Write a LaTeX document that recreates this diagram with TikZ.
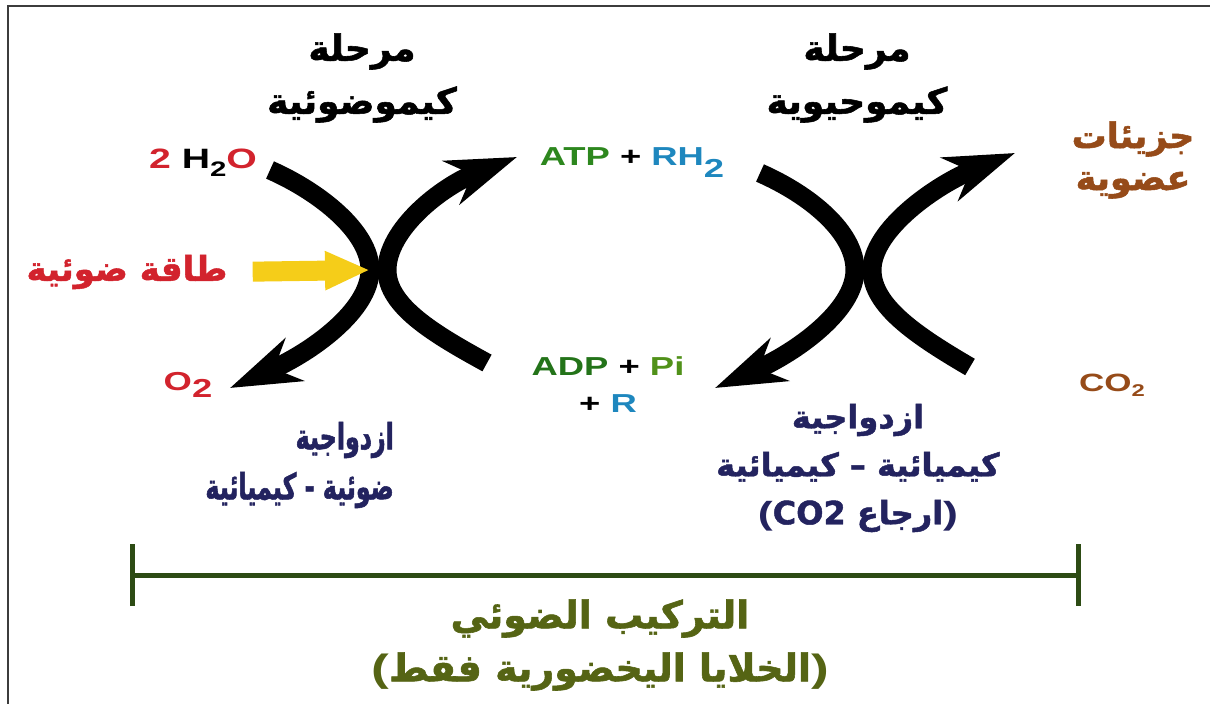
\documentclass[tikz,border=0pt]{standalone}
\usepackage{fontspec}
\usetikzlibrary{arrows.meta}
\TeXXeTstate=1
\newfontfamily\arabicfont[Script=Arabic, BoldFeatures={FakeBold=1.5}]{DejaVu Sans}
\newfontfamily\arnarrow[Script=Arabic, FakeStretch=0.66, BoldFeatures={FakeBold=1.5}]{DejaVu Sans}
\newfontfamily\chemfont[FakeStretch=1.4]{Liberation Sans}
\newcommand\opar{{\chemfont\bfseries(}}
\newcommand\cpar{{\chemfont\bfseries)}}
\definecolor{chemred}{RGB}{210, 35, 45}
\definecolor{atpgreen}{RGB}{45, 135, 30}
\definecolor{adpgreen}{RGB}{35, 115, 25}
\definecolor{pigreen}{RGB}{80, 145, 25}
\definecolor{rhblue}{RGB}{30, 135, 190}
\definecolor{orgbrown}{RGB}{150, 75, 25}
\definecolor{coupnavy}{RGB}{35, 35, 95}
\definecolor{bargreen}{RGB}{45, 75, 20}
\definecolor{titlegreen}{RGB}{85, 100, 20}
\definecolor{sunyellow}{RGB}{245, 205, 25}
\definecolor{framegray}{RGB}{60, 60, 60}
\tikzset{
  artext/.style={font=\arabicfont\bfseries\fontsize{36}{53}\selectfont, align=center, inner sep=1pt},
  chem/.style={font=\chemfont\bfseries\fontsize{26}{37}\selectfont, align=center, inner sep=1pt},
  xarc/.style={line width=19pt, -{Stealth[length=70pt, width=46pt, inset=22pt]}},
  sunray/.style={sunyellow, line width=20pt, -{Triangle[length=45pt, width=36pt]}},
  spanbar/.style={bargreen, line width=5pt, {Bar[width=62pt]}-{Bar[width=62pt]}},
}

\begin{document}
\begin{tikzpicture}[x=1pt, y=-1pt]
  \useasboundingbox (0,0) rectangle (1210,704);
  \draw[framegray, line width=2.5pt] (1210,6) -- (8,6) -- (8,704);

  % phase titles
  \node[artext] (st1) at (362,78) {\beginR مرحلة\endR\\\beginR كيموضوئية\endR};
  \node[artext] (st2) at (857,78) {\beginR مرحلة\endR\\\beginR كيموحيوية\endR};

  % substances
  \node[chem, font=\chemfont\bfseries\fontsize{28}{34}\selectfont] (h2o) at (203,163)
    {\textcolor{chemred}{2} H\raisebox{-8pt}{\fontsize{21}{21}\selectfont 2}\textcolor{chemred}{O}};
  \node[chem, text=chemred] (o2) at (188,385) {O\raisebox{-7pt}{2}};
  \node[chem] (atp) at (632,163)
    {\textcolor{atpgreen}{ATP} + \textcolor{rhblue}{RH\raisebox{-12pt}{2}}};
  \node[chem] (adp) at (608,385)
    {\textcolor{adpgreen}{ADP} + \textcolor{pigreen}{Pi}\\+ \textcolor{rhblue}{R}};
  \node[chem, text=orgbrown, font=\chemfont\bfseries\fontsize{25}{28}\selectfont] (co2) at (1112,385)
    {CO\raisebox{-5pt}{\fontsize{17}{17}\selectfont 2}};
  \node[artext, text=orgbrown, font=\arabicfont\bfseries\fontsize{35}{42}\selectfont] (org) at (1133,160)
    {\beginR جزيئات\endR\\\beginR عضوية\endR};
  \node[artext, text=chemred, font=\arabicfont\bfseries\fontsize{34}{40}\selectfont] (light) at (127,272)
    {\beginR طاقة ضوئية\endR};

  % coupled reactions
  \coordinate (a1) at (270,170);
  \coordinate (a2) at (230,388);
  \coordinate (a3) at (487,363);
  \coordinate (a4) at (517,157);
  \coordinate (v1) at (370,270);
  \coordinate (v2) at (387,270);
  \draw[xarc] (a1) .. controls (320,192) and (370,232) .. (v1)
              .. controls (370,310) and (312,352) .. (a2);
  \draw[xarc] (a3) .. controls (434,334) and (387,306) .. (v2)
              .. controls (387,230) and (440,187) .. (a4);

  \coordinate (b1) at (760,173);
  \coordinate (b2) at (715,388);
  \coordinate (b3) at (970,367);
  \coordinate (b4) at (1015,153);
  \coordinate (w1) at (855,270);
  \coordinate (w2) at (872,270);
  \draw[xarc] (b1) .. controls (810,195) and (855,232) .. (w1)
              .. controls (855,310) and (797,352) .. (b2);
  \draw[xarc] (b3) .. controls (917,336) and (872,306) .. (w2)
              .. controls (872,230) and (935,185) .. (b4);

  \draw[sunray, shorten <=24pt] (light.east) -- (v1);

  \node[artext, text=coupnavy, font=\arnarrow\bfseries\fontsize{36}{50}\selectfont,
        align=right, anchor=east] (cp1) at (395,465)
    {\beginR ازدواجية\endR\\\beginR ضوئية - كيميائية\endR};
  \node[artext, text=coupnavy, font=\arabicfont\bfseries\fontsize{32}{48}\selectfont] (cp2) at (858,468)
    {\beginR ازدواجية\endR\\\beginR كيميائية – كيميائية\endR\\\opar CO2 \beginR ارجاع\endR\cpar};

  % whole process
  \coordinate (bl) at (130,575);
  \coordinate (br) at (1081,575);
  \draw[spanbar] (bl) -- (br);
  \node[artext, text=titlegreen, font=\arabicfont\bfseries\fontsize{38}{53}\selectfont] (ps) at (600,645)
    {\beginR التركيب الضوئي\endR\\\opar\beginR الخلايا اليخضورية فقط\endR\cpar};
\end{tikzpicture}
\end{document}
